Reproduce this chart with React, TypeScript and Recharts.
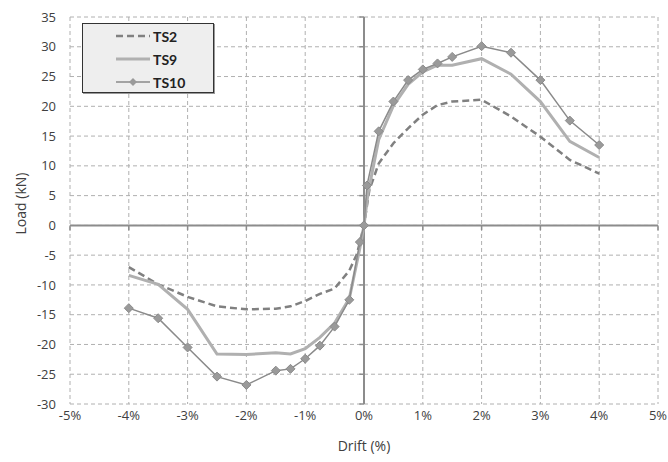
import React from 'react';
import { LineChart, Line, XAxis, YAxis, CartesianGrid, ReferenceLine, Legend } from 'recharts';

const ts2Drift = [-4, -3.5, -3, -2.5, -2, -1.5, -1.25, -1, -0.75, -0.5, -0.25, -0.12, 0, 0.09, 0.25, 0.5, 0.75, 1, 1.25, 1.5, 2, 2.5, 3, 3.5, 4];
const ts2Load = [-7.0, -9.9, -12.0, -13.6, -14.1, -14.0, -13.6, -12.7, -11.5, -10.6, -7.6, -4.8, 0, 5.9, 10.4, 13.8, 16.3, 18.6, 20.2, 20.8, 21.1, 18.3, 14.9, 11.0, 8.7];

const ts9Drift = [-4, -3.5, -3, -2.5, -2, -1.5, -1.25, -1, -0.75, -0.5, -0.25, -0.07, 0, 0.07, 0.25, 0.5, 0.75, 1, 1.25, 1.5, 2, 2.5, 3, 3.5, 4];
const ts9Load = [-8.4, -9.9, -14.1, -21.6, -21.7, -21.4, -21.6, -20.7, -18.8, -16.4, -12.3, -3.8, 0, 5.5, 14.4, 20.1, 23.7, 25.8, 26.9, 26.9, 28.0, 25.4, 20.8, 14.1, 11.4];

const ts10Drift = [-4, -3.5, -3, -2.5, -2, -1.5, -1.25, -1, -0.75, -0.5, -0.25, -0.07, 0, 0.05, 0.25, 0.5, 0.75, 1, 1.25, 1.5, 2, 2.5, 3, 3.5, 4];
const ts10Load = [-13.9, -15.6, -20.5, -25.4, -26.8, -24.4, -24.1, -22.4, -20.2, -17.0, -12.5, -2.8, 0, 6.7, 15.8, 20.8, 24.4, 26.2, 27.2, 28.3, 30.1, 29.0, 24.4, 17.6, 13.5];

const xTicks = [-5, -4, -3, -2, -1, 0, 1, 2, 3, 4, 5];
const yTicks = [-30, -25, -20, -15, -10, -5, 0, 5, 10, 15, 20, 25, 30, 35];

const seriesNames = ['TS2', 'TS9', 'TS10'];

const toPoints = (xs: number[], ys: number[]) => xs.map((x, i) => ({ x, y: ys[i] }));
const ts2 = toPoints(ts2Drift, ts2Load);
const ts9 = toPoints(ts9Drift, ts9Load);
const ts10 = toPoints(ts10Drift, ts10Load);

const FONT = '"Open Sans", sans-serif';
const LFONT = 'Lato, "Open Sans", sans-serif';
const TXT = '#404040';

const Diamond = (props: any) => {
  const { cx, cy } = props;
  if (cx == null || cy == null) return null;
  const r = 4.5;
  return (
    <polygon
      points={`${cx},${cy - r} ${cx + r},${cy} ${cx},${cy + r} ${cx - r},${cy}`}
      fill="#9a9a9a"
      stroke="#8a8a8a"
      strokeWidth={1}
    />
  );
};

const LegendBox = () => (
  <div
    style={{
      width: 130,
      height: 68,
      background: '#eeeeee',
      border: '1.5px solid #333',
      boxShadow: '1px 1px 0 #999',
      fontFamily: LFONT,
      fontWeight: 700,
      fontSize: 14,
      color: '#222',
    }}
  >
    <svg width={130} height={68} style={{ display: 'block' }}>
      <line x1={33} x2={67} y1={12} y2={12} stroke="#808080" strokeWidth={2.5} strokeDasharray="7 4" />
      <text x={70} y={12} dominantBaseline="central" fontWeight={700} fill="#222">{seriesNames[0]}</text>
      <line x1={33} x2={67} y1={35} y2={35} stroke="#b0b0b0" strokeWidth={3} />
      <text x={70} y={35} dominantBaseline="central" fontWeight={700} fill="#222">{seriesNames[1]}</text>
      <line x1={33} x2={67} y1={58} y2={58} stroke="#8a8a8a" strokeWidth={1.5} />
      <polygon points="50,54 54,58 50,62 46,58" fill="#9a9a9a" />
      <text x={70} y={58} dominantBaseline="central" fontWeight={700} fill="#222">{seriesNames[2]}</text>
    </svg>
  </div>
);

const YLabel = (props: any) => {
  const { viewBox } = props;
  const cx = 20;
  const cy = viewBox.y + viewBox.height / 2 - 7;
  return (
    <text
      x={cx}
      y={cy}
      transform={`rotate(-90 ${cx} ${cy})`}
      textAnchor="middle"
      dominantBaseline="central"
      fontFamily={FONT}
      fontSize={14}
      fill={TXT}
    >
      Load (kN)
    </text>
  );
};

export default function App() {
  return (
    <div style={{ position: 'absolute', left: 0, top: 0, width: 668, height: 462, background: '#fff' }}>
      <LineChart width={668} height={462} margin={{ top: 17, right: 10, bottom: 28, left: 0 }}>
        <CartesianGrid stroke="#b0b0b0" strokeDasharray="4 3" />
        <XAxis
          type="number"
          dataKey="x"
          domain={[-5, 5]}
          ticks={xTicks}
          tickFormatter={(v: number) => `${v}%`}
          axisLine={false}
          tickLine={false}
          tickSize={0}
          tickMargin={7}
          height={30}
          tick={{ fontFamily: FONT, fontSize: 13, fill: TXT }}
          label={{ value: 'Drift (%)', position: 'bottom', offset: 7, fontFamily: FONT, fontSize: 14, fill: TXT }}
          allowDataOverflow
        />
        <YAxis
          type="number"
          dataKey="y"
          domain={[-30, 35]}
          ticks={yTicks}
          axisLine={false}
          tickLine={false}
          tickSize={0}
          tickMargin={14}
          width={70}
          tick={{ fontFamily: FONT, fontSize: 13, fill: TXT }}
          label={<YLabel />}
          allowDataOverflow
        />
        <ReferenceLine y={0} stroke="#8c8c8c" strokeWidth={2} />
        <ReferenceLine x={0} stroke="#8c8c8c" strokeWidth={2} />
        {xTicks.map((t) => (
          <ReferenceLine key={`xt${t}`} segment={[{ x: t, y: 0 }, { x: t, y: -0.8 }]} stroke="#8c8c8c" strokeWidth={1.5} />
        ))}
        {yTicks.map((t) => (
          <ReferenceLine key={`yt${t}`} segment={[{ x: 0, y: t }, { x: -0.08, y: t }]} stroke="#8c8c8c" strokeWidth={1.5} />
        ))}
        <Line
          data={ts2}
          dataKey="y"
          name="TS2"
          type="linear"
          stroke="#808080"
          strokeWidth={2.5}
          strokeDasharray="7 4"
          dot={false}
          isAnimationActive={false}
        />
        <Line
          data={ts9}
          dataKey="y"
          name="TS9"
          type="linear"
          stroke="#b0b0b0"
          strokeWidth={3}
          dot={false}
          isAnimationActive={false}
        />
        <Line
          data={ts10}
          dataKey="y"
          name="TS10"
          type="linear"
          stroke="#8a8a8a"
          strokeWidth={1.5}
          dot={<Diamond />}
          isAnimationActive={false}
        />
        <Legend
          layout="horizontal"
          verticalAlign="middle"
          align="center"
          content={<LegendBox />}
          wrapperStyle={{ position: 'absolute', left: 82, top: 23, width: 133, height: 71 }}
        />
      </LineChart>
    </div>
  );
}
